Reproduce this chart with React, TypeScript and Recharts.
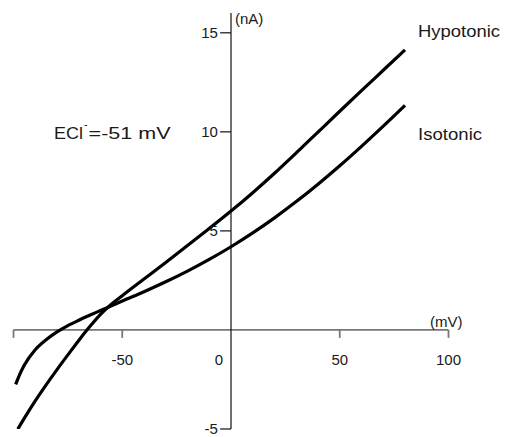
import { LineChart, Line, XAxis, YAxis, ReferenceLine, ReferenceDot } from 'recharts'

// membrane potential (mV) and current (nA)
const hypoV = [-98, -95, -90, -85, -80, -75, -70, -65, -60, -55, -50, -40, -30, -20, -10, 0, 10, 20, 30, 40, 50, 60, 70, 80]
const hypoI = [-5.0, -4.45, -3.58, -2.77, -2.0, -1.26, -0.53, 0.16, 0.79, 1.3, 1.73, 2.57, 3.41, 4.26, 5.12, 6.0, 6.93, 7.91, 8.94, 9.99, 11.04, 12.08, 13.11, 14.14]

const isoV = [-99, -97, -95, -90, -85, -80, -75, -70, -65, -60, -55, -50, -40, -30, -20, -10, 0, 10, 20, 30, 40, 50, 60, 70, 80]
const isoI = [-2.75, -2.21, -1.77, -1.0, -0.5, -0.1, 0.22, 0.49, 0.74, 0.98, 1.22, 1.46, 1.93, 2.43, 2.97, 3.56, 4.2, 4.9, 5.66, 6.48, 7.36, 8.29, 9.27, 10.29, 11.34]

const xTicks = [-100, -50, 50, 100]
const xTickLabels = ['-50', '0', '50', '100']
const xTickLabelAt = [-50, -5.5, 50, 100]
const yTicks = [15, 10, 5, -5]

const hypotonic = hypoV.map((v, k) => ({ v, i: hypoI[k] }))
const isotonic = isoV.map((v, k) => ({ v, i: isoI[k] }))

const FONT = "'Liberation Sans', Arial, sans-serif"

function textShape(text: string, opts: { anchor?: string; size?: number; dx?: number; dy?: number; len?: number } = {}) {
  const { anchor = 'start', size = 15, dx = 0, dy = 0, len } = opts
  return (p: any) => (
    <text
      x={p.cx}
      y={p.cy}
      dx={dx}
      dy={dy}
      textAnchor={anchor}
      fontSize={size}
      fontFamily={FONT}
      fill="#1a1a1a"
      textLength={len}
      lengthAdjust={len ? 'spacingAndGlyphs' : undefined}
    >
      {text}
    </text>
  )
}

const eclShape = (p: any) => (
  <text x={p.cx} y={p.cy} fontSize={17} fontFamily={FONT} fill="#1a1a1a">
    <tspan textLength={29} lengthAdjust="spacingAndGlyphs">ECl</tspan>
    <tspan dx={1} dy={-11} fontSize={11}>-</tspan>
    <tspan dx={1} dy={11} textLength={82} lengthAdjust="spacingAndGlyphs">=-51 mV</tspan>
  </text>
)

export default function App() {
  return (
    <div style={{ position: 'absolute', left: 0, top: 0 }}>
      <LineChart width={508} height={437} margin={{ top: 13, right: 59.5, bottom: 8, left: 13.5 }}>
        <XAxis type="number" dataKey="v" domain={[-100, 100]} allowDataOverflow hide />
        <YAxis type="number" dataKey="i" domain={[-5, 16]} allowDataOverflow hide />

        <ReferenceLine y={0} stroke="#777" strokeWidth={1.8} />
        <ReferenceLine x={0} stroke="#111" strokeWidth={1.2} />
        {xTicks.map((t) => (
          <ReferenceLine key={'xt' + t} segment={[{ x: t, y: 0 }, { x: t, y: -0.4 }]} stroke="#777" strokeWidth={1.8} />
        ))}
        {yTicks.map((t) => (
          <ReferenceLine key={'yt' + t} segment={[{ x: -5, y: t }, { x: 0, y: t }]} stroke="#111" strokeWidth={1.2} />
        ))}

        {xTickLabels.map((s, k) => (
          <ReferenceDot key={'xl' + s} x={xTickLabelAt[k]} y={-1.78} r={0} shape={textShape(s, { anchor: 'middle' })} />
        ))}
        {yTicks.map((t) => (
          <ReferenceDot key={'yl' + t} x={-6} y={t} r={0} shape={textShape(String(t), { anchor: 'end', dy: 5 })} />
        ))}

        <ReferenceDot x={1.8} y={15.45} r={0} shape={textShape('(nA)')} />
        <ReferenceDot x={91.5} y={0.13} r={0} shape={textShape('(mV)')} />
        <ReferenceDot x={86} y={14.79} r={0} shape={textShape('Hypotonic', { size: 17, len: 82 })} />
        <ReferenceDot x={86} y={9.6} r={0} shape={textShape('Isotonic', { size: 17, len: 64 })} />
        <ReferenceDot x={-81.4} y={9.65} r={0} shape={eclShape} />

        <Line data={hypotonic} dataKey="i" type="monotone" stroke="#000" strokeWidth={3.2} dot={false} isAnimationActive={false} />
        <Line data={isotonic} dataKey="i" type="monotone" stroke="#000" strokeWidth={3.2} dot={false} isAnimationActive={false} />
      </LineChart>
    </div>
  )
}
